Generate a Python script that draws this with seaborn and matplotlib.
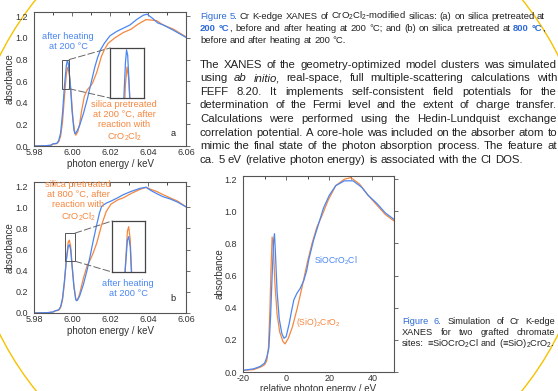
import numpy as np
import pandas as pd
import seaborn as sns
import matplotlib.pyplot as plt
from matplotlib.patches import Rectangle, Ellipse, ConnectionPatch

# ---- data ----
# Figure 5a (photon energy / keV, absorbance)
a_heat_x = [5.980, 5.986, 5.989, 5.990, 5.992, 5.993, 5.994, 5.995, 5.996, 5.997, 5.9975, 5.998, 5.999,
            6.000, 6.001, 6.0015, 6.002, 6.003, 6.004, 6.006, 6.008, 6.010, 6.012, 6.0135, 6.015, 6.017,
            6.020, 6.0235, 6.027, 6.0305, 6.034, 6.0375, 6.0395, 6.0425, 6.045, 6.048, 6.0535, 6.060]
a_heat_y = [0.000, 0.002, 0.008, 0.020, 0.025, 0.05, 0.12, 0.30, 0.55, 0.74, 0.79, 0.77, 0.60,
            0.33, 0.15, 0.115, 0.12, 0.15, 0.19, 0.30, 0.43, 0.58, 0.73, 0.82, 0.89, 0.95,
            1.02, 1.06, 1.09, 1.12, 1.17, 1.21, 1.22, 1.18, 1.14, 1.12, 1.07, 1.005]
a_pre_x = [5.980, 5.986, 5.989, 5.990, 5.992, 5.993, 5.994, 5.995, 5.996, 5.997, 5.9977, 5.9985, 5.9995,
           6.0005, 6.0015, 6.002, 6.003, 6.004, 6.005, 6.0065, 6.008, 6.010, 6.011, 6.013, 6.0155,
           6.017, 6.019, 6.0225, 6.027, 6.031, 6.035, 6.039, 6.0445, 6.048, 6.0535, 6.060]
a_pre_y = [0.000, 0.002, 0.006, 0.018, 0.022, 0.04, 0.09, 0.22, 0.45, 0.66, 0.726, 0.68, 0.50,
           0.25, 0.12, 0.10, 0.13, 0.20, 0.32, 0.46, 0.52, 0.56, 0.59, 0.68, 0.83,
           0.89, 0.95, 1.00, 1.05, 1.08, 1.13, 1.17, 1.16, 1.12, 1.08, 1.01]

# Figure 5b
b_heat_x = [5.980, 5.987, 5.990, 5.991, 5.993, 5.994, 5.995, 5.996, 5.997, 5.998, 5.9986, 5.9993, 6.000,
            6.001, 6.002, 6.0025, 6.003, 6.004, 6.006, 6.008, 6.0095, 6.011, 6.013, 6.0145, 6.0156,
            6.018, 6.020, 6.024, 6.027, 6.031, 6.0358, 6.039, 6.0415, 6.0446, 6.048, 6.0516, 6.0555, 6.060]
b_heat_y = [0.000, 0.003, 0.010, 0.020, 0.03, 0.06, 0.14, 0.30, 0.50, 0.63, 0.646, 0.60, 0.45,
            0.25, 0.125, 0.117, 0.125, 0.16, 0.27, 0.41, 0.535, 0.67, 0.835, 0.95, 1.01,
            1.04, 1.055, 1.09, 1.12, 1.15, 1.18, 1.19, 1.16, 1.13, 1.10, 1.08, 1.05, 1.005]
b_pre_x = [5.980, 5.987, 5.990, 5.991, 5.993, 5.994, 5.995, 5.996, 5.997, 5.998, 5.9986, 5.9993, 6.000,
           6.001, 6.002, 6.0025, 6.003, 6.004, 6.006, 6.008, 6.0095, 6.0112, 6.013, 6.0156, 6.018,
           6.0205, 6.024, 6.027, 6.031, 6.0358, 6.039, 6.0415, 6.0446, 6.048, 6.0516, 6.0555, 6.060]
b_pre_y = [0.000, 0.003, 0.008, 0.018, 0.027, 0.05, 0.12, 0.28, 0.50, 0.67, 0.69, 0.63, 0.47,
           0.26, 0.13, 0.117, 0.13, 0.18, 0.33, 0.45, 0.50, 0.57, 0.66, 0.835, 0.96,
           1.03, 1.07, 1.09, 1.13, 1.17, 1.19, 1.17, 1.15, 1.12, 1.09, 1.06, 1.005]

# Figure 6 (relative photon energy / eV)
c_cl_x = [-20, -15, -12, -10, -9, -8, -7.2, -6.5, -5.8, -5.4, -5.0, -4.2, -3.2, -2.0, -1.0, 0.0, 1.4, 2.5,
          3.6, 5.0, 6.5, 8.2, 9.5, 10.5, 12.7, 15, 17.3, 20, 23, 27, 31, 35, 38, 42, 46, 50]
c_cl_y = [0.01, 0.02, 0.035, 0.055, 0.09, 0.15, 0.35, 0.60, 0.82, 0.86, 0.75, 0.50, 0.33, 0.24, 0.21, 0.22,
          0.30, 0.38, 0.45, 0.49, 0.52, 0.57, 0.63, 0.70, 0.82, 0.92, 1.02, 1.10, 1.16, 1.19, 1.19, 1.15,
          1.10, 1.05, 0.99, 0.95]
c_bis_x = [-20, -15, -12, -10, -9, -8.2, -7.5, -7, -6.5, -6.0, -5.2, -4.2, -3, -1.5, -0.5, 1, 2.9, 5.2,
           7.4, 9.7, 12, 14.2, 16.5, 19.5, 23, 27, 30, 34, 38, 42, 46, 50]
c_bis_y = [0.01, 0.015, 0.03, 0.045, 0.07, 0.15, 0.40, 0.65, 0.84, 0.80, 0.55, 0.36, 0.25, 0.19, 0.175,
           0.21, 0.28, 0.40, 0.53, 0.675, 0.80, 0.90, 0.97, 1.07, 1.16, 1.20, 1.21, 1.17, 1.10, 1.04,
           0.98, 0.94]

y_ticks = [0.0, 0.2, 0.4, 0.6, 0.8, 1.0, 1.2]
kev_ticks = [5.98, 6.00, 6.02, 6.04, 6.06]
ev_ticks = [-20, 0, 20, 40]

BLUE = "#4a86f2"
ORANGE = "#f5873f"
CAP_BLUE = "#2f6bd8"
W, H = 558, 391

sns.set_style("white")
plt.rcParams["font.family"] = ["Liberation Sans", "DejaVu Sans"]
plt.rcParams["mathtext.fontset"] = "custom"
plt.rcParams["mathtext.rm"] = "Liberation Sans"
plt.rcParams["mathtext.it"] = "Liberation Sans:italic"
plt.rcParams["axes.unicode_minus"] = False

fig = plt.figure(figsize=(W / 100, H / 100), dpi=100)


def px_rect(l, t, r, b):
    return [l / W, 1 - b / H, (r - l) / W, (b - t) / H]


def style_axes(ax):
    for s in ax.spines.values():
        s.set_color("#555555")
        s.set_linewidth(0.8)
    ax.tick_params(axis="both", labelsize=6.5, colors="#555555", labelcolor="#333333",
                   length=3, width=0.6, pad=1.2)
    ax.tick_params(axis="x", which="both", direction="in", top=True)
    ax.tick_params(axis="x", which="minor", length=2)
    ax.tick_params(axis="y", direction="out", right=True)


def xanes_panel(rect, xh, yh, xp, yp, box, inset_rect, inset_xlim, inset_ylim):
    ax = fig.add_axes(px_rect(*rect))
    sns.lineplot(x=xp, y=yp, ax=ax, color=ORANGE, lw=0.9)
    sns.lineplot(x=xh, y=yh, ax=ax, color=BLUE, lw=0.9)
    ax.set_xlim(5.98, 6.06)
    ax.set_ylim(0, 1.24)
    ax.set_xticks(kev_ticks)
    ax.set_xticks(np.arange(5.98, 6.061, 0.01), minor=True)
    ax.set_xticklabels([f"{v:.2f}" for v in kev_ticks])
    ax.set_yticks(y_ticks)
    ax.set_yticklabels([f"{v:.1f}" for v in y_ticks])
    style_axes(ax)
    ax.set_xlabel("photon energy / keV", fontsize=7, color="#333333", labelpad=2)
    ax.set_ylabel("absorbance", fontsize=7, color="#333333", labelpad=0.5)

    bx0, by0, bx1, by1 = box
    ax.add_patch(Rectangle((bx0, by0), bx1 - bx0, by1 - by0, fill=False,
                           edgecolor="#555555", lw=0.7, zorder=5))
    ins = fig.add_axes(px_rect(*inset_rect))
    sns.lineplot(x=xp, y=yp, ax=ins, color=ORANGE, lw=0.9)
    sns.lineplot(x=xh, y=yh, ax=ins, color=BLUE, lw=0.9)
    ins.set_xlim(*inset_xlim)
    ins.set_ylim(*inset_ylim)
    ins.set_xticks([])
    ins.set_yticks([])
    ins.set_xlabel("")
    ins.set_ylabel("")
    for s in ins.spines.values():
        s.set_color("#444444")
        s.set_linewidth(0.9)
    for yb, yi in ((by1, 1), (by0, 0)):
        con = ConnectionPatch(xyA=(bx1, yb), coordsA=ax.transData, xyB=(0, yi),
                              coordsB=ins.transAxes, color="#666666", lw=0.7,
                              linestyle=(0, (7, 3)))
        fig.add_artist(con)
    return ax


ax_a = xanes_panel((34, 12, 186, 146), a_heat_x, a_heat_y, a_pre_x, a_pre_y,
                   (5.9947, 0.53, 5.9985, 0.80), (110, 48, 144, 98),
                   (5.9902, 6.0052), (0.61, 0.797))
ax_a.text(5.9979, 0.97, "after heating\nat 200 °C", color=BLUE, fontsize=6.7,
          ha="center", va="center", linespacing=1.15)
ax_a.text(6.0274, 0.23, "silica pretreated\nat 200 °C, after\nreaction with\nCrO$_2$Cl$_2$",
          color=ORANGE, fontsize=6.7, ha="center", va="center", linespacing=1.15)
ax_a.text(6.0532, 0.12, "a", fontsize=6.7, color="#222222", ha="center", va="center")

ax_b = xanes_panel((34, 182, 186, 313), b_heat_x, b_heat_y, b_pre_x, b_pre_y,
                   (5.9963, 0.49, 6.0016, 0.756), (112, 221, 145, 272),
                   (5.991, 6.006), (0.49, 0.715))
ax_b.text(6.0032, 1.054, "silica pretreated\nat 800 °C, after\nreaction with\nCrO$_2$Cl$_2$",
          color=ORANGE, fontsize=6.7, ha="center", va="center", linespacing=1.15)
ax_b.text(6.0295, 0.236, "after heating\nat 200 °C", color=BLUE, fontsize=6.7,
          ha="center", va="center", linespacing=1.15)
ax_b.text(6.0532, 0.14, "b", fontsize=6.7, color="#222222", ha="center", va="center")

# Figure 6 panel
ax_c = fig.add_axes(px_rect(243, 176, 394, 372))
sns.lineplot(x=c_bis_x, y=c_bis_y, ax=ax_c, color=ORANGE, lw=0.9)
sns.lineplot(x=c_cl_x, y=c_cl_y, ax=ax_c, color=BLUE, lw=0.9)
ax_c.set_xlim(-20, 50)
ax_c.set_ylim(0, 1.22)
ax_c.set_xticks(ev_ticks)
ax_c.set_xticks(np.arange(-20, 51, 10), minor=True)
ax_c.set_yticks(y_ticks)
ax_c.set_yticklabels([f"{v:.1f}" for v in y_ticks])
style_axes(ax_c)
ax_c.set_xlabel("relative photon energy / eV", fontsize=7, color="#333333", labelpad=1)
ax_c.set_ylabel("absorbance", fontsize=7, color="#333333", labelpad=0)
ax_c.text(12.7, 0.69, "SiOCrO$_2$Cl", color=BLUE, fontsize=6.2, ha="left", va="center")
ax_c.text(4.5, 0.31, "(SiO)$_2$CrO$_2$", color=ORANGE, fontsize=6.2, ha="left", va="center")

# decorative arc of the slide
fig.add_artist(Ellipse((0.5, 1 - 195 / H), 2 * 312 / W, 2 * 312 / H, transform=fig.transFigure,
                       fill=False, edgecolor="#f6c200", lw=1.0, zorder=0))

# ---- page text, justified word by word ----
renderer = fig.canvas.get_renderer()


def put_line(words, x0, base, width, size, justify=True):
    placed = []
    for word in words:
        pieces = word if isinstance(word, list) else [word]
        arts = []
        for p in pieces:
            txt, kw = (p, {}) if isinstance(p, str) else p
            kw = {"color": "#222222", **kw}
            arts.append(fig.text(0, 0, txt, fontsize=size, ha="left", va="baseline", **kw))
        ws = [a.get_window_extent(renderer).width for a in arts]
        placed.append((arts, ws))
    total = sum(sum(ws) for _, ws in placed)
    if justify and len(placed) > 1:
        gap = (width - total) / (len(placed) - 1)
    else:
        gap = 0.278 * size * 100 / 72
    x = x0
    for arts, ws in placed:
        for a, w in zip(arts, ws):
            a.set_position((x / W, 1 - base / H))
            x += w
        x += gap


blue_kw = {"color": CAP_BLUE}
bold_kw = {"color": CAP_BLUE, "fontweight": "bold"}
it_kw = {"style": "italic"}

cap5 = [
    [("Figure", blue_kw), ("5.", blue_kw), "Cr", "K-edge", "XANES", "of", "CrO$_2$Cl$_2$-modified",
     "silicas:", "(a)", "on", "silica", "pretreated", "at"],
    [("200", bold_kw), [("°C", bold_kw), ","], "before", "and", "after", "heating", "at", "200",
     "°C;", "and", "(b)", "on", "silica", "pretreated", "at", ("800", bold_kw), [("°C", bold_kw), ","]],
    ["before", "and", "after", "heating", "at", "200", "°C."],
]
for i, line in enumerate(cap5):
    put_line(line, 200, 19 + 12 * i, 345, 6.8, justify=i < 2)

para = [
    "The XANES of the geometry-optimized model clusters was simulated".split(),
    ["using", ("ab", it_kw), ("initio,", it_kw)] + "real-space, full multiple-scattering calculations with".split(),
    "FEFF 8.20. It implements self-consistent field potentials for the".split(),
    "determination of the Fermi level and the extent of charge transfer.".split(),
    "Calculations were performed using the Hedin-Lundquist exchange".split(),
    "correlation potential. A core-hole was included on the absorber atom to".split(),
    "mimic the final state of the photon absorption process. The feature at".split(),
    "ca. 5 eV (relative photon energy) is associated with the Cl DOS.".split(),
]
for i, line in enumerate(para):
    put_line(line, 200, 67.5 + 13.6 * i, 357, 8.2, justify=i < len(para) - 1)

cap6 = [
    [("Figure", blue_kw), ("6.", blue_kw), "Simulation", "of", "Cr", "K-edge"],
    "XANES for two grafted chromate".split(),
    ["sites:", "≡SiOCrO$_2$Cl", "and", "(≡SiO)$_2$CrO$_2$."],
]
for i, line in enumerate(cap6):
    put_line(line, 402, 324 + 11 * i, 153, 6.7, justify=i < 2)

fig.savefig("out.png", dpi=100)
